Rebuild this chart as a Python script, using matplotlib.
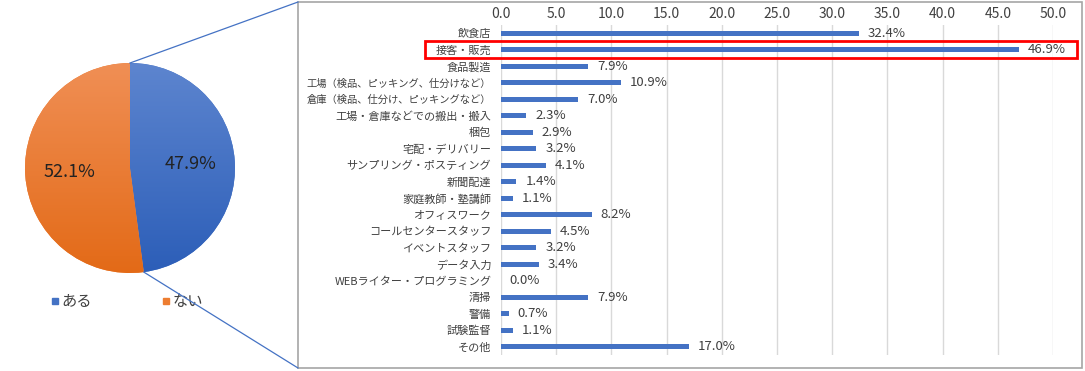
import numpy as np
import matplotlib
matplotlib.use('Agg')
import matplotlib.pyplot as plt
from matplotlib.patches import Rectangle
from matplotlib.lines import Line2D
from matplotlib.colors import LinearSegmentedColormap
import matplotlib.transforms as mtransforms

plt.rcParams['font.family'] = ['Noto Sans CJK JP', 'DejaVu Sans']

# pie data
pie_labels = ['ある', 'ない']
pie_values = [47.9, 52.1]
pie_colors = ['#4472C4', '#ED7D31']
# light (top) / dark (bottom) shades for the gradient fill
pie_shades = [('#5d85cf', '#2c5eb8'), ('#f08f55', '#e36a17')]

# bar data
categories = ['飲食店', '接客・販売', '食品製造', '工場（検品、ピッキング、仕分けなど）',
              '倉庫（検品、仕分け、ピッキングなど）', '工場・倉庫などでの搬出・搬入', '梱包',
              '宅配・デリバリー', 'サンプリング・ポスティング', '新聞配達', '家庭教師・塾講師',
              'オフィスワーク', 'コールセンタースタッフ', 'イベントスタッフ', 'データ入力',
              'WEBライター・プログラミング', '清掃', '警備', '試験監督', 'その他']
values = [32.4, 46.9, 7.9, 10.9, 7.0, 2.3, 2.9, 3.2, 4.1, 1.4, 1.1,
          8.2, 4.5, 3.2, 3.4, 0.0, 7.9, 0.7, 1.1, 17.0]
highlight = 1
xticks = np.arange(0, 50.1, 5)

W, H = 1085, 371
fig = plt.figure(figsize=(W / 100, H / 100), dpi=100)
txt = '#404040'

# ---- pie
axp = fig.add_axes([25 / W, (H - 273) / H, 210 / W, 210 / H])
wedges, _, autotexts = axp.pie(pie_values, colors=pie_colors, startangle=90, counterclock=False,
                               autopct='%.1f%%', pctdistance=0.58,
                               textprops={'fontsize': 13, 'color': '#222222', 'zorder': 5})
grad = np.linspace(0, 1, 256).reshape(-1, 1)
for w, (c1, c2) in zip(wedges, pie_shades):
    cm = LinearSegmentedColormap.from_list('g', [c1, c2])
    im = axp.imshow(grad, extent=[-1, 1, -1, 1], cmap=cm, aspect='auto', zorder=2)
    im.set_clip_path(w)
axp.set_xlim(-1, 1)
axp.set_ylim(-1, 1)
axp.set_aspect('equal')
axp.axis('off')
handles = [Line2D([], [], marker='s', linestyle='', color=c, markersize=5) for c in pie_colors]
axp.legend(handles, pie_labels, loc='upper center', bbox_to_anchor=(0.485, -0.03), ncol=2,
           frameon=False, fontsize=11, handlelength=0.6, handletextpad=0.1,
           columnspacing=4.55, labelcolor=txt)

# ---- box around bar chart
bx0, by0, bx1, by1 = 298 / W, (H - 368) / H, 1082 / W, (H - 2) / H
fig.patches.append(Rectangle((bx0, by0), bx1 - bx0, by1 - by0, transform=fig.transFigure,
                             fill=False, edgecolor='#a6a6a6', linewidth=1.2))

# connector lines from the pie to the box corners
fig.canvas.draw()
inv = fig.transFigure.inverted()
ang = np.deg2rad(90 - 360 * pie_values[0] / sum(pie_values))
top = inv.transform(axp.transData.transform((0, 1)))
bot = inv.transform(axp.transData.transform((np.cos(ang), np.sin(ang))))
fig.lines.append(Line2D([top[0], bx0], [top[1], by1], transform=fig.transFigure,
                        color='#4472C4', linewidth=0.9))
fig.lines.append(Line2D([bot[0], bx0], [bot[1], by0], transform=fig.transFigure,
                        color='#4472C4', linewidth=0.9))

# ---- bars
ax = fig.add_axes([501 / W, 16 / H, 552 / W, 330 / H])
y = np.arange(len(categories))
ax.barh(y, values, height=0.33, color='#4472C4', zorder=3)
for yi, v in zip(y, values):
    ax.text(v + 0.8, yi, f'{v:.1f}%', va='center', ha='left', fontsize=9.5, color=txt)
ax.set_xlim(0, 50)
ax.set_ylim(len(categories) - 0.5, -0.5)
ax.set_yticks(y)
ax.set_yticklabels(categories, fontsize=8, color=txt)
# the two long labels with full-width brackets come out too wide, shrink them a bit
for lab in ax.get_yticklabels():
    if '（' in lab.get_text():
        lab.set_fontsize(7.4)
ax.set_xticks(xticks)
ax.set_xticklabels([f'{t:.1f}' for t in xticks], fontsize=10, color=txt)
ax.xaxis.tick_top()
ax.tick_params(length=0)
ax.tick_params(axis='y', pad=7)
ax.tick_params(axis='x', pad=3)
ax.grid(axis='x', color='#d9d9d9', linewidth=1, zorder=0)
for s in ax.spines.values():
    s.set_visible(False)

# red highlight box around one row
trans = mtransforms.blended_transform_factory(fig.transFigure, ax.transData)
fig.patches.append(Rectangle((425 / W, highlight + 0.5), (1077 - 425) / W, -1.0,
                             transform=trans, fill=False, edgecolor='#ff0000', linewidth=2))

fig.savefig('out.png', dpi=100)
